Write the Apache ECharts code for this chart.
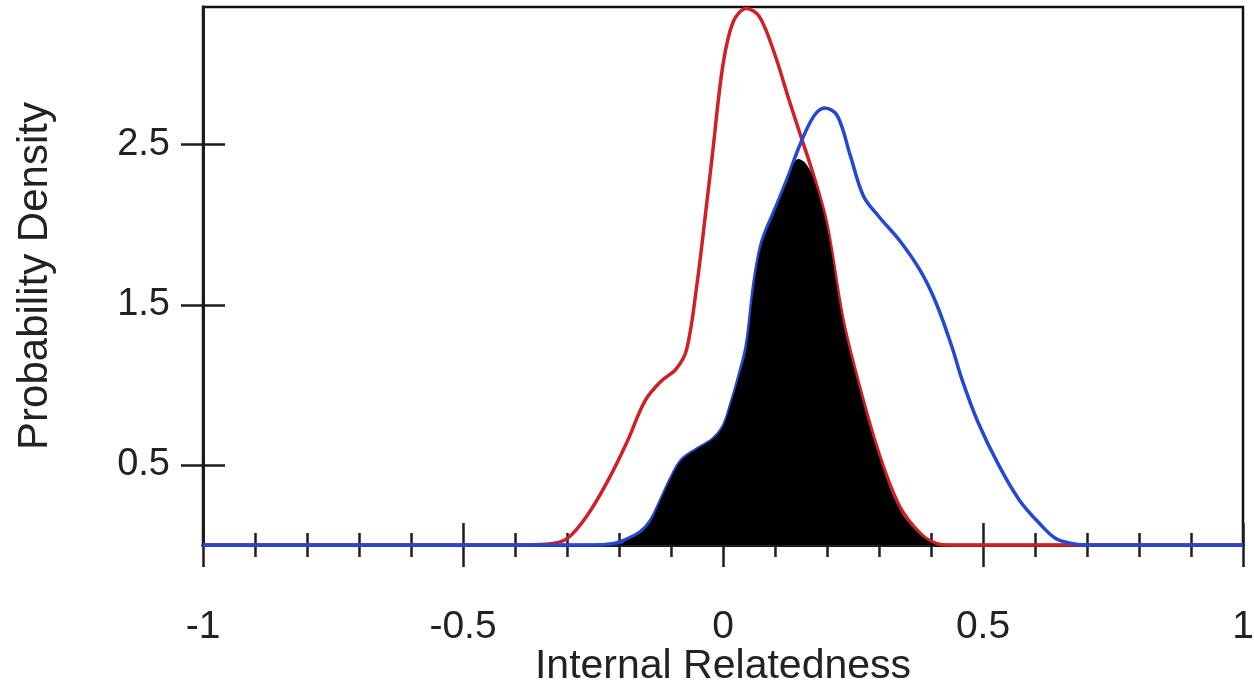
<!DOCTYPE html>
<html>
<head>
<meta charset="utf-8">
<script src="https://cdn.jsdelivr.net/npm/echarts@6/dist/echarts.min.js"></script>
<style>
  html, body { margin: 0; padding: 0; background: #fff; }
  #main { width: 1254px; height: 684px; }
</style>
</head>
<body>
<div id="main"></div>
<script>
// density curves, [x, density]
var redCurve = [
  [-1, 0], [-0.4, 0], [-0.34, 0.005], [-0.3, 0.04], [-0.26, 0.19], [-0.22, 0.41],
  [-0.185, 0.64], [-0.15, 0.9], [-0.12, 1.02], [-0.09, 1.1], [-0.07, 1.22],
  [-0.05, 1.63], [-0.035, 2.03], [-0.02, 2.45], [0, 3.0], [0.02, 3.27], [0.045, 3.35],
  [0.07, 3.3], [0.1, 3.06], [0.125, 2.8], [0.15, 2.55], [0.175, 2.3], [0.2, 2.0],
  [0.23, 1.42], [0.26, 1.02], [0.3, 0.57], [0.34, 0.24], [0.38, 0.07], [0.41, 0.01],
  [0.44, 0], [1, 0]
];
var blueCurve = [
  [-1, 0], [-0.25, 0], [-0.21, 0.01], [-0.19, 0.03], [-0.16, 0.08], [-0.14, 0.15],
  [-0.12, 0.28], [-0.1, 0.42], [-0.08, 0.53], [-0.05, 0.6], [-0.02, 0.66], [0, 0.74],
  [0.015, 0.88], [0.03, 1.05], [0.045, 1.25], [0.06, 1.65], [0.075, 1.9], [0.1, 2.1],
  [0.125, 2.3], [0.148, 2.5], [0.175, 2.68], [0.196, 2.73], [0.22, 2.68], [0.245, 2.43],
  [0.27, 2.18], [0.3, 2.05], [0.34, 1.9], [0.38, 1.71], [0.41, 1.51], [0.44, 1.24],
  [0.46, 1.03], [0.49, 0.77], [0.53, 0.5], [0.57, 0.28], [0.61, 0.13], [0.64, 0.04],
  [0.67, 0.01], [0.7, 0], [1, 0]
];
var blackArea = [
  [-0.2, 0], [-0.19, 0.02], [-0.16, 0.07], [-0.14, 0.14], [-0.12, 0.28], [-0.1, 0.42],
  [-0.08, 0.53], [-0.05, 0.6], [-0.02, 0.66], [0, 0.74], [0.015, 0.88], [0.03, 1.04],
  [0.045, 1.22], [0.06, 1.62], [0.075, 1.88], [0.1, 2.08], [0.125, 2.28], [0.145, 2.41],
  [0.16, 2.38], [0.175, 2.28], [0.2, 1.98], [0.23, 1.4], [0.26, 1.0], [0.3, 0.55],
  [0.34, 0.22], [0.38, 0.06], [0.41, 0]
];
var yTickValues = [0.5, 1.5, 2.5];

var font = 'Liberation Sans, Arial, sans-serif';
var ink = '#1c1c26';

var chart = echarts.init(document.getElementById('main'));

function xAxisPart(inside, withLabels) {
  return {
    type: 'value',
    min: -1,
    max: 1,
    interval: 0.5,
    position: 'bottom',
    name: withLabels ? 'Internal Relatedness' : '',
    nameLocation: 'middle',
    nameGap: 101,
    nameMoveOverlap: false,
    nameTextStyle: { fontFamily: font, fontSize: 41, color: '#222' },
    axisLine: { show: true, onZero: false, lineStyle: { color: ink, width: 3 } },
    axisTick: { show: true, inside: inside, length: 22, lineStyle: { color: ink, width: 2.5 } },
    minorTick: { show: true, splitNumber: 5, length: 12, lineStyle: { color: ink, width: 2.5 } },
    axisLabel: {
      show: withLabels,
      margin: 63,
      fontFamily: font,
      fontSize: 39,
      color: '#222',
      formatter: function (v) { return String(v); }
    },
    splitLine: { show: false },
    minorSplitLine: { show: false }
  };
}

function yAxisPart(inside, withLabels) {
  return {
    type: 'value',
    min: 0,
    max: 3.36,
    position: 'left',
    name: withLabels ? 'Probability Density' : '',
    nameLocation: 'middle',
    nameRotate: 90,
    nameGap: 147,
    nameMoveOverlap: false,
    nameTextStyle: { fontFamily: font, fontSize: 42, color: '#222' },
    axisLine: { show: true, onZero: false, lineStyle: { color: ink, width: 3 } },
    axisTick: {
      show: true, inside: inside, length: 22, customValues: yTickValues,
      lineStyle: { color: ink, width: 2.5 }
    },
    axisLabel: {
      show: withLabels,
      customValues: yTickValues,
      margin: 33,
      fontFamily: font,
      fontSize: 38,
      color: '#222'
    },
    splitLine: { show: false }
  };
}

var option = {
  animation: false,
  backgroundColor: '#fff',
  grid: {
    left: 203,
    right: 11,
    top: 7,
    bottom: 139,
    containLabel: false,
    outerBoundsMode: 'none',
    show: true,
    borderColor: '#111',
    borderWidth: 2.5,
    backgroundColor: 'transparent'
  },
  xAxis: [xAxisPart(false, true), xAxisPart(true, false)],
  yAxis: [yAxisPart(false, true), yAxisPart(true, false)],
  series: [
    {
      type: 'line',
      data: redCurve,
      smooth: 0.35,
      showSymbol: false,
      clip: false,
      lineStyle: { color: '#d11f26', width: 3.5 },
      z: 2
    },
    {
      type: 'line',
      data: blueCurve,
      smooth: 0.35,
      showSymbol: false,
      clip: false,
      lineStyle: { color: '#2447d4', width: 3.5 },
      z: 2
    },
    {
      type: 'line',
      data: blackArea,
      smooth: 0.35,
      showSymbol: false,
      lineStyle: { width: 0 },
      areaStyle: { color: '#000', opacity: 1 },
      z: 3
    }
  ]
};

chart.setOption(option);
</script>
</body>
</html>
